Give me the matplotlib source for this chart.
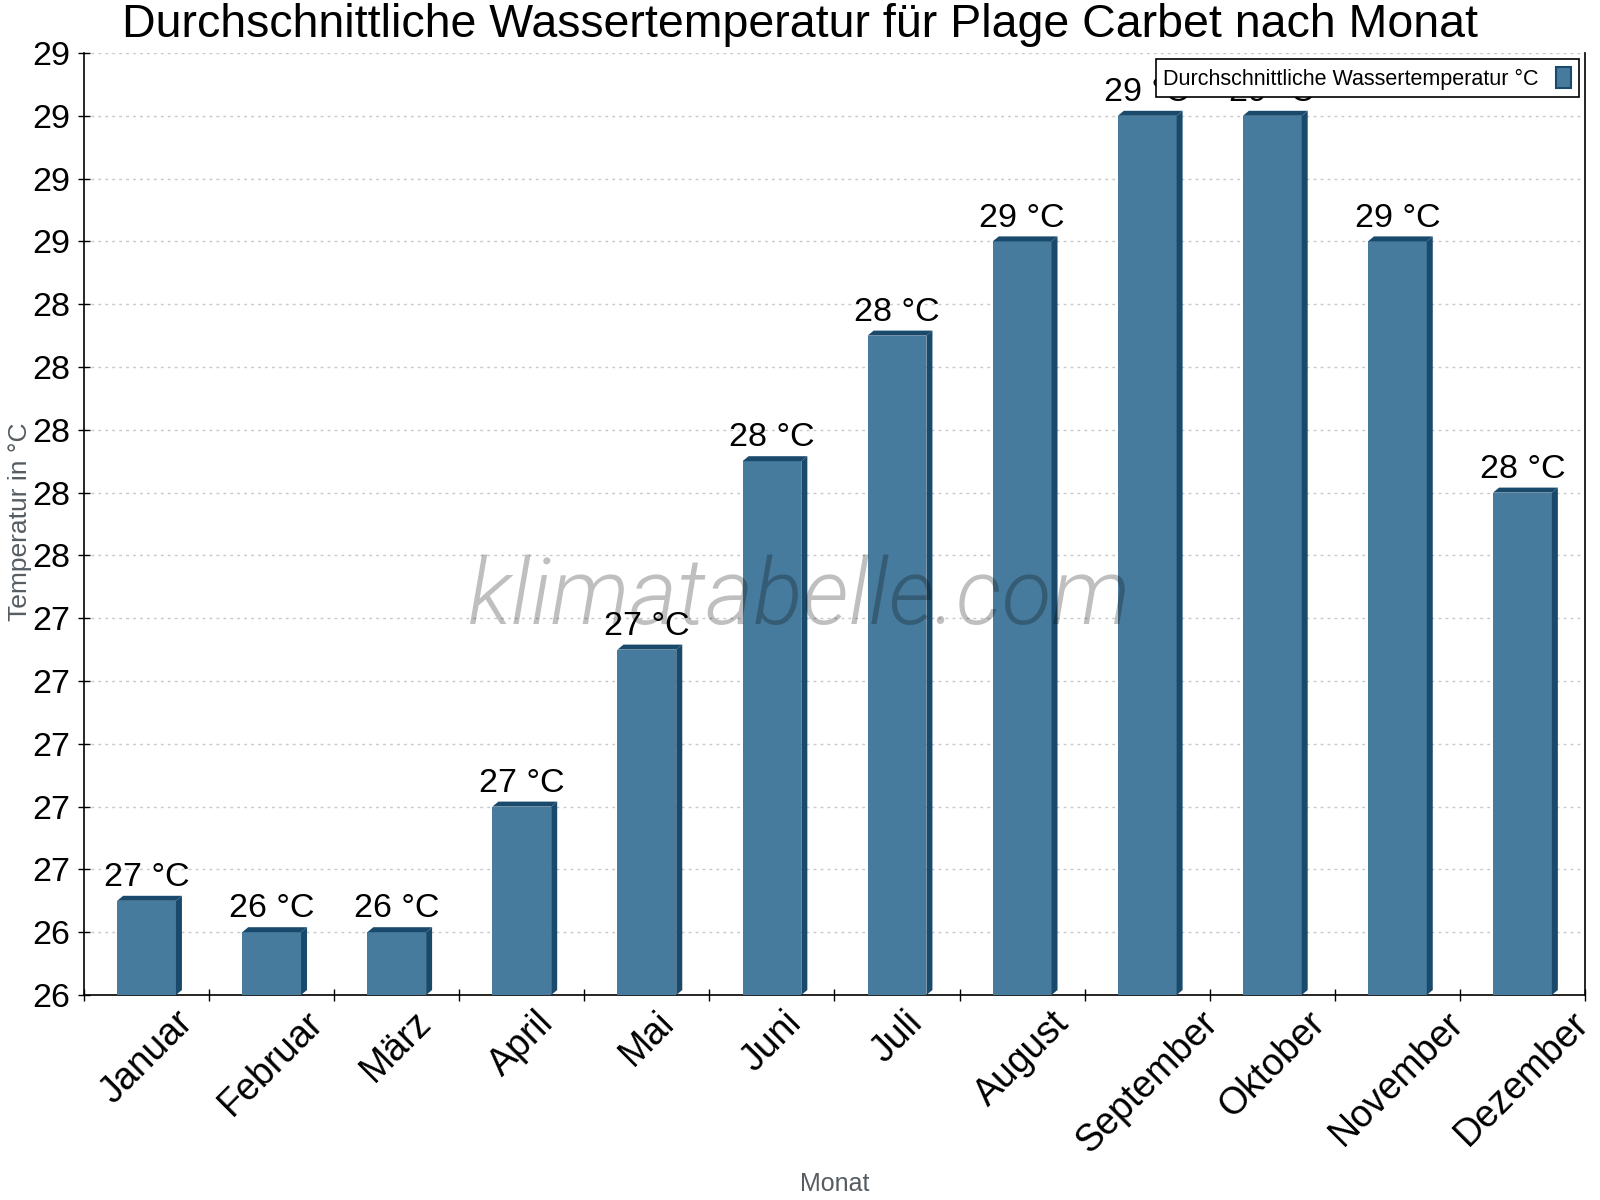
import matplotlib
matplotlib.use("Agg")
import matplotlib.pyplot as plt
from matplotlib.patches import Polygon, Patch
from matplotlib import font_manager, patheffects
import numpy as np

# ---- data ----
MONTHS = ["Januar", "Februar", "März", "April", "Mai", "Juni", "Juli",
          "August", "September", "Oktober", "November", "Dezember"]
WATER_TEMP = [26.5, 26.4, 26.4, 26.8, 27.3, 27.9, 28.3, 28.6, 29.0, 29.0, 28.6, 27.8]
VALUE_LABELS = ["27 °C", "26 °C", "26 °C", "27 °C", "27 °C", "28 °C", "28 °C",
                "29 °C", "29 °C", "29 °C", "29 °C", "28 °C"]
YTICKS = [26.2, 26.4, 26.6, 26.8, 27.0, 27.2, 27.4, 27.6, 27.8, 28.0,
          28.2, 28.4, 28.6, 28.8, 29.0, 29.2]
YTICK_LABELS = ["26", "26", "27", "27", "27", "27", "27", "28", "28", "28",
                "28", "28", "29", "29", "29", "29"]
TITLE = "Durchschnittliche Wassertemperatur für Plage Carbet nach Monat"
SERIES_NAME = "Durchschnittliche Wassertemperatur °C"
YLABEL = "Temperatur in °C"
XLABEL = "Monat"
WATERMARK = "klimatabelle.com"

# ---- style ----
FACE = "#477b9d"
DARK = "#1a4a6b"
FONT = ["Liberation Sans", "DejaVu Sans"]
plt.rcParams["font.family"] = FONT

fig = plt.figure(figsize=(16, 12), dpi=100)
ax = fig.add_axes([84 / 1600, 1 - 995 / 1200, (1585 - 84) / 1600, (995 - 53) / 1200])
ymin, ymax = YTICKS[0], YTICKS[-1]
ax.set_xlim(-0.5, len(MONTHS) - 0.5)
ax.set_ylim(ymin, ymax)

x = np.arange(len(MONTHS))
vals = np.array(WATER_TEMP)
bw = 0.47
# pixel offsets of the pseudo-3D depth, converted to data units
px_x = (len(MONTHS)) / (1585 - 84)
px_y = (ymax - ymin) / (995 - 53)
dx, dy = 6 * px_x, 5 * px_y

ax.bar(x, vals - ymin, bottom=ymin, width=bw, color=FACE, edgecolor="none", zorder=3)
for xi, v in zip(x, vals):
    xl, xr = xi - bw / 2, xi + bw / 2
    side = Polygon([(xr, ymin), (xr + dx, ymin + dy), (xr + dx, v + dy), (xr, v)],
                   closed=True, facecolor=DARK, edgecolor="none", zorder=3, clip_on=False)
    top = Polygon([(xl, v), (xl + dx, v + dy), (xr + dx, v + dy), (xr, v)],
                  closed=True, facecolor=DARK, edgecolor="none", zorder=3)
    ax.add_patch(side)
    ax.add_patch(top)

for xi, v, lab in zip(x, vals, VALUE_LABELS):
    ax.annotate(lab, (xi, v + dy), xytext=(0, 2), textcoords="offset points",
                ha="center", va="bottom", fontsize=24.5, color="black", zorder=4)

# grid and ticks
ax.set_yticks(YTICKS)
ax.set_yticklabels(YTICK_LABELS, fontsize=24.5)
ax.yaxis.grid(True, color="#c8c8c8", linestyle=(0, (2, 3)), linewidth=1, zorder=0)
ax.set_axisbelow(True)
ax.tick_params(axis="y", direction="inout", length=8, width=1, pad=6)

ax.set_xticks(np.arange(-0.5, len(MONTHS), 1.0))
ax.set_xticklabels([])
ax.set_xticks(x, minor=True)
ax.set_xticklabels(MONTHS, minor=True, rotation=45, ha="center", va="top", fontsize=27)
ax.tick_params(axis="x", which="major", direction="inout", length=9, width=1)
ax.tick_params(axis="x", which="minor", length=0, pad=7)

for s in ["left", "bottom", "right"]:
    ax.spines[s].set_color("black")
    ax.spines[s].set_linewidth(1.2)
ax.spines["top"].set_visible(False)

fig.text(20 / 1600, 1 - 522 / 1200, YLABEL, fontsize=19, color="#555d63",
         rotation=90, ha="center", va="center")
fig.text(835 / 1600, 1 - 1184 / 1200, XLABEL, fontsize=18, color="#555d63",
         ha="center", va="center")

fig.suptitle(TITLE, fontsize=33.5, y=1 - 3 / 1200, va="top")

# watermark: prefer a light italic face, otherwise thicken a thin one
light = None
for fam in ["Roboto", "Lato", "Open Sans", "Noto Sans"]:
    for f in font_manager.fontManager.ttflist:
        if f.name == fam and f.style == "italic" and f.weight in (300, "light"):
            light = f.fname
            break
    if light:
        break
if light:
    fig.text(0.5, 1 - 624 / 1200, WATERMARK, fontsize=66,
             fontproperties=font_manager.FontProperties(fname=light, size=66),
             color="black", alpha=0.25, ha="center", va="baseline", zorder=10)
else:
    fig.text(0.5, 1 - 624 / 1200, WATERMARK, fontsize=66, family=["Roboto", "DejaVu Sans"],
             fontweight=100, style="italic", color=(0, 0, 0, 0),
             ha="center", va="baseline", zorder=10,
             path_effects=[patheffects.Stroke(linewidth=2.0, foreground="black", alpha=0.25)])

handle = Patch(facecolor=FACE, edgecolor=DARK, linewidth=1.5)
leg = ax.legend([handle], [SERIES_NAME], loc="upper right", fontsize=15.5,
                markerfirst=False, handlelength=0.7, handleheight=1.1,
                frameon=True, fancybox=False, edgecolor="black", framealpha=1,
                borderaxespad=0.3, borderpad=0.35, handletextpad=0.8)
leg.get_frame().set_linewidth(1.2)
leg.set_zorder(6)

fig.savefig("out.png", dpi=100)
